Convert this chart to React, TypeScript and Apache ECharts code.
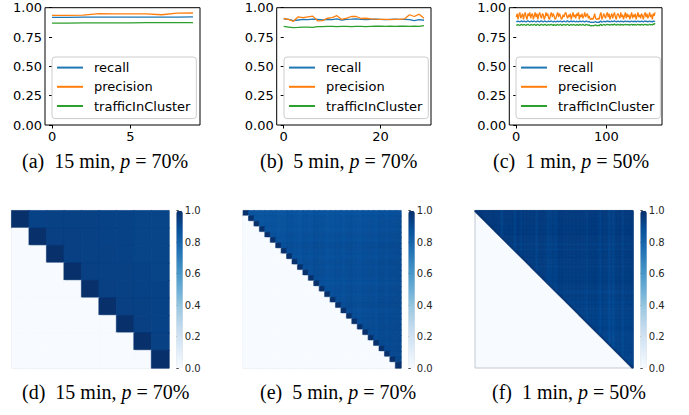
import React, { useEffect, useRef } from 'react';
import * as echarts from 'echarts';

// ---------- data ----------
const SERIES_NAMES = ['recall', 'precision', 'trafficInCluster'];
const LINE_COLORS = ['#1f77b4', '#ff7f0e', '#2ca02c'];
const BLUES = ['#f7fbff', '#deebf7', '#c6dbef', '#9ecae1', '#6baed6', '#4292c6', '#2171b5', '#08519c', '#08306b'];

// (a) 15 min
const recallA = [0.918, 0.918, 0.919, 0.919, 0.919, 0.919, 0.919, 0.92, 0.92, 0.921];
const precisionA = [0.935, 0.935, 0.937, 0.95, 0.948, 0.948, 0.948, 0.94, 0.953, 0.955];
const trafficA = [0.868, 0.869, 0.87, 0.871, 0.871, 0.871, 0.872, 0.872, 0.873, 0.873];

// (b) 5 min
const recallB = [0.905, 0.9, 0.89, 0.895, 0.9, 0.898, 0.902, 0.9, 0.895, 0.9, 0.898, 0.905, 0.895, 0.9, 0.902, 0.905, 0.9, 0.898, 0.9, 0.902, 0.9, 0.898, 0.9, 0.902, 0.9, 0.9, 0.898, 0.89, 0.898, 0.893];
const precisionB = [0.908, 0.9, 0.884, 0.922, 0.915, 0.922, 0.928, 0.888, 0.89, 0.91, 0.915, 0.932, 0.9, 0.912, 0.925, 0.925, 0.908, 0.91, 0.905, 0.902, 0.9, 0.9, 0.898, 0.9, 0.9, 0.905, 0.94, 0.925, 0.945, 0.91];
const trafficB = [0.84, 0.835, 0.83, 0.832, 0.835, 0.835, 0.833, 0.838, 0.838, 0.84, 0.84, 0.838, 0.84, 0.84, 0.838, 0.84, 0.84, 0.838, 0.84, 0.842, 0.842, 0.84, 0.842, 0.84, 0.842, 0.842, 0.84, 0.842, 0.84, 0.848];

// (c) 1 min
const recallC = [
  0.885, 0.88, 0.886, 0.882, 0.878, 0.884, 0.887, 0.88, 0.883, 0.886,
  0.881, 0.879, 0.885, 0.888, 0.882, 0.878, 0.884, 0.886, 0.88, 0.883,
  0.887, 0.882, 0.879, 0.884, 0.886, 0.881, 0.878, 0.885, 0.888, 0.882,
  0.879, 0.884, 0.887, 0.881, 0.878, 0.883, 0.886, 0.88, 0.884, 0.887,
  0.882, 0.879, 0.885, 0.881, 0.878, 0.884, 0.886, 0.88, 0.883, 0.887,
  0.881, 0.878, 0.884, 0.886, 0.882, 0.879, 0.885, 0.888, 0.881, 0.878,
  0.884, 0.887, 0.88, 0.883, 0.886, 0.881, 0.879, 0.885, 0.882, 0.878,
  0.884, 0.886, 0.88, 0.883, 0.887, 0.881, 0.878, 0.884, 0.886, 0.882,
  0.879, 0.883, 0.875, 0.874, 0.876, 0.875, 0.874, 0.878, 0.882, 0.876,
  0.875, 0.877, 0.874, 0.883, 0.886, 0.876, 0.88, 0.885, 0.882, 0.879,
  0.884, 0.887, 0.881, 0.885, 0.878, 0.883, 0.886, 0.88, 0.884, 0.888,
  0.882, 0.878, 0.884, 0.886, 0.881, 0.879, 0.887, 0.882, 0.884, 0.878,
  0.883, 0.887, 0.88, 0.885, 0.882, 0.884, 0.878, 0.883, 0.887, 0.88,
  0.884, 0.881, 0.886, 0.878, 0.883, 0.887, 0.881, 0.884, 0.88, 0.886,
  0.883, 0.878, 0.884, 0.887, 0.881, 0.885, 0.879, 0.883, 0.887, 0.881,
  0.884, 0.878, 0.886, 0.882, 0.887,
];
const precisionC = [
  0.92, 0.95, 0.9, 0.94, 0.96, 0.91, 0.93, 0.95, 0.9, 0.94,
  0.96, 0.92, 0.9, 0.95, 0.93, 0.96, 0.91, 0.94, 0.95, 0.9,
  0.93, 0.96, 0.92, 0.95, 0.9, 0.94, 0.96, 0.93, 0.91, 0.95,
  0.94, 0.9, 0.92, 0.96, 0.93, 0.95, 0.91, 0.9, 0.94, 0.96,
  0.92, 0.95, 0.93, 0.9, 0.91, 0.94, 0.96, 0.92, 0.95, 0.93,
  0.9, 0.91, 0.94, 0.92, 0.95, 0.96, 0.93, 0.91, 0.94, 0.92,
  0.95, 0.9, 0.93, 0.96, 0.92, 0.94, 0.91, 0.95, 0.93, 0.96,
  0.9, 0.94, 0.92, 0.95, 0.91, 0.93, 0.96, 0.92, 0.94, 0.95,
  0.91, 0.93, 0.9, 0.9, 0.91, 0.9, 0.92, 0.95, 0.91, 0.9,
  0.9, 0.91, 0.9, 0.94, 0.96, 0.9, 0.92, 0.95, 0.93, 0.91,
  0.94, 0.96, 0.92, 0.95, 0.9, 0.93, 0.95, 0.91, 0.94, 0.96,
  0.92, 0.9, 0.94, 0.95, 0.93, 0.91, 0.96, 0.92, 0.94, 0.9,
  0.93, 0.96, 0.91, 0.95, 0.92, 0.94, 0.9, 0.93, 0.96, 0.91,
  0.94, 0.92, 0.95, 0.9, 0.93, 0.96, 0.92, 0.94, 0.91, 0.95,
  0.93, 0.9, 0.94, 0.96, 0.92, 0.95, 0.91, 0.93, 0.96, 0.92,
  0.94, 0.9, 0.95, 0.93, 0.96,
];
const trafficC = [
  0.855, 0.85, 0.857, 0.852, 0.848, 0.856, 0.858, 0.851, 0.854, 0.857,
  0.852, 0.849, 0.856, 0.859, 0.853, 0.848, 0.855, 0.857, 0.851, 0.854,
  0.858, 0.853, 0.849, 0.855, 0.857, 0.852, 0.847, 0.856, 0.859, 0.853,
  0.85, 0.855, 0.858, 0.852, 0.848, 0.854, 0.857, 0.851, 0.855, 0.858,
  0.853, 0.849, 0.856, 0.852, 0.848, 0.855, 0.857, 0.851, 0.854, 0.858,
  0.852, 0.848, 0.855, 0.857, 0.853, 0.85, 0.856, 0.859, 0.852, 0.849,
  0.855, 0.858, 0.851, 0.854, 0.857, 0.852, 0.85, 0.856, 0.853, 0.849,
  0.855, 0.857, 0.851, 0.854, 0.858, 0.852, 0.849, 0.855, 0.857, 0.853,
  0.85, 0.854, 0.847, 0.846, 0.848, 0.847, 0.846, 0.85, 0.854, 0.848,
  0.847, 0.849, 0.846, 0.855, 0.858, 0.848, 0.852, 0.857, 0.854, 0.851,
  0.856, 0.859, 0.853, 0.857, 0.85, 0.855, 0.858, 0.852, 0.856, 0.86,
  0.854, 0.85, 0.856, 0.858, 0.853, 0.851, 0.859, 0.854, 0.856, 0.85,
  0.855, 0.859, 0.852, 0.857, 0.854, 0.856, 0.85, 0.855, 0.859, 0.852,
  0.856, 0.853, 0.858, 0.85, 0.855, 0.859, 0.853, 0.856, 0.852, 0.858,
  0.855, 0.85, 0.856, 0.859, 0.853, 0.857, 0.851, 0.855, 0.86, 0.853,
  0.857, 0.852, 0.862, 0.858, 0.868,
];

const xTicksA = [0, 5];
const xTicksB = [0, 20];
const xTicksC = [0, 100];
const colorbarTicks = [0, 0.2, 0.4, 0.6, 0.8, 1];

// (d) 15 min similarity matrix (9 x 9, upper triangle)
const matrixD = [
  [1, 0.93, 0.935, 0.935, 0.935, 0.93, 0.93, 0.925, 0.925],
  [0, 1, 0.94, 0.94, 0.935, 0.93, 0.93, 0.925, 0.925],
  [0, 0, 1, 0.94, 0.935, 0.935, 0.93, 0.925, 0.925],
  [0, 0, 0, 1, 0.94, 0.935, 0.935, 0.93, 0.925],
  [0, 0, 0, 0, 1, 0.94, 0.935, 0.93, 0.93],
  [0, 0, 0, 0, 0, 1, 0.94, 0.935, 0.93],
  [0, 0, 0, 0, 0, 0, 1, 0.94, 0.93],
  [0, 0, 0, 0, 0, 0, 0, 1, 0.935],
  [0, 0, 0, 0, 0, 0, 0, 0, 1],
];

// (e) 5 min: row / column similarity levels (29 x 29)
const rowLevelE = [0.86, 0.87, 0.88, 0.87, 0.89, 0.88, 0.9, 0.89, 0.88, 0.9, 0.89, 0.9, 0.89, 0.88, 0.9, 0.89, 0.9, 0.91, 0.89, 0.9, 0.9, 0.91, 0.9, 0.91, 0.9, 0.91, 0.9, 0.92, 0.92];
const colLevelE = [0.88, 0.87, 0.86, 0.85, 0.86, 0.87, 0.85, 0.86, 0.88, 0.87, 0.86, 0.88, 0.87, 0.89, 0.88, 0.86, 0.87, 0.88, 0.87, 0.89, 0.88, 0.87, 0.88, 0.89, 0.88, 0.9, 0.89, 0.9, 0.91];

// (f) 1 min: row / column similarity levels (154 x 154)
const colLevelF = [
  0.96, 0.95, 0.96, 0.94, 0.95, 0.96, 0.95, 0.94, 0.96, 0.95,
  0.95, 0.96, 0.94, 0.95, 0.96, 0.92, 0.95, 0.96, 0.94, 0.95,
  0.94, 0.95, 0.92, 0.94, 0.96, 0.88, 0.85, 0.9, 0.95, 0.94,
  0.95, 0.92, 0.94, 0.95, 0.94, 0.92, 0.95, 0.94, 0.9, 0.85,
  0.92, 0.95, 0.94, 0.94, 0.92, 0.87, 0.94, 0.95, 0.92, 0.94,
  0.95, 0.94, 0.92, 0.95, 0.94, 0.92, 0.94, 0.95, 0.94, 0.9,
  0.86, 0.92, 0.94, 0.95, 0.92, 0.94, 0.95, 0.94, 0.92, 0.94,
  0.88, 0.9, 0.86, 0.92, 0.88, 0.9, 0.94, 0.88, 0.92, 0.86,
  0.92, 0.94, 0.95, 0.92, 0.94, 0.95, 0.94, 0.92, 0.95, 0.94,
  0.92, 0.95, 0.94, 0.92, 0.94, 0.95, 0.92, 0.94, 0.95, 0.94,
  0.94, 0.92, 0.95, 0.94, 0.92, 0.94, 0.95, 0.92, 0.94, 0.86,
  0.94, 0.95, 0.92, 0.94, 0.95, 0.92, 0.94, 0.95, 0.94, 0.92,
  0.94, 0.9, 0.85, 0.92, 0.94, 0.95, 0.92, 0.94, 0.92, 0.94,
  0.88, 0.86, 0.9, 0.94, 0.88, 0.86, 0.92, 0.94, 0.95, 0.92,
  0.94, 0.95, 0.94, 0.92, 0.86, 0.94, 0.95, 0.92, 0.94, 0.95,
  0.92, 0.94, 0.95, 0.94,
];
const rowLevelF = [
  0.96, 0.95, 0.96, 0.95, 0.96, 0.95, 0.94, 0.96, 0.95, 0.96,
  0.95, 0.96, 0.95, 0.94, 0.95, 0.96, 0.95, 0.94, 0.95, 0.96,
  0.95, 0.94, 0.95, 0.96, 0.95, 0.94, 0.95, 0.96, 0.95, 0.94,
  0.95, 0.94, 0.95, 0.89, 0.94, 0.95, 0.94, 0.95, 0.89, 0.94,
  0.95, 0.94, 0.95, 0.94, 0.93, 0.94, 0.95, 0.94, 0.93, 0.94,
  0.94, 0.93, 0.94, 0.95, 0.94, 0.89, 0.93, 0.94, 0.93, 0.94,
  0.93, 0.94, 0.93, 0.92, 0.93, 0.94, 0.93, 0.92, 0.93, 0.94,
  0.93, 0.92, 0.93, 0.94, 0.93, 0.92, 0.93, 0.93, 0.92, 0.89,
  0.9, 0.89, 0.93, 0.92, 0.93, 0.92, 0.9, 0.93, 0.92, 0.89,
  0.9, 0.89, 0.92, 0.9, 0.89, 0.92, 0.9, 0.89, 0.92, 0.9,
  0.89, 0.9, 0.89, 0.92, 0.9, 0.89, 0.9, 0.92, 0.88, 0.89,
  0.9, 0.88, 0.89, 0.9, 0.89, 0.92, 0.9, 0.89, 0.9, 0.89,
  0.9, 0.89, 0.88, 0.9, 0.89, 0.9, 0.89, 0.88, 0.9, 0.89,
  0.89, 0.9, 0.89, 0.88, 0.89, 0.9, 0.89, 0.88, 0.89, 0.9,
  0.89, 0.88, 0.9, 0.89, 0.88, 0.89, 0.9, 0.89, 0.88, 0.89,
  0.89, 0.9, 0.89, 0.9,
];

const captionLetters = ['(a)', '(b)', '(c)', '(d)', '(e)', '(f)'];
const captionIntervals = ['15 min', '5 min', '1 min', '15 min', '5 min', '1 min'];
const captionShares = ['70%', '70%', '50%', '70%', '70%', '50%'];

// ---------- layout ----------
const LINE_GRIDS = [
  { left: 45, top: 7.7, width: 155, height: 117.3 },
  { left: 276.7, top: 7.7, width: 154.3, height: 117.3 },
  { left: 509.3, top: 7.7, width: 152.7, height: 117.3 },
];
const HEAT_GRIDS = [
  { left: 11.7, top: 210.7, width: 157.3, height: 157.3 },
  { left: 243.3, top: 210.7, width: 157.7, height: 157.3 },
  { left: 475, top: 210.7, width: 158, height: 157.3 },
];
const CBAR_LEFT = [176.3, 408.3, 640.3];
const CBAR_W = 6.5;
const LEGEND_LEFT = [52, 284, 516];
const CAPTION_POS = [
  [22, 150], [260, 150], [493, 150],
  [22, 381], [260, 381], [492, 381],
];

const FONT = 'DejaVu Sans';

// colour of a value on the Blues scale (same linear interpolation as the visualMap)
function hexToRgb(h: string) {
  return [parseInt(h.slice(1, 3), 16), parseInt(h.slice(3, 5), 16), parseInt(h.slice(5, 7), 16)];
}
const BLUES_RGB = BLUES.map(hexToRgb);
function bluesColor(v: number) {
  const p = Math.max(0, Math.min(1, v)) * (BLUES_RGB.length - 1);
  const i = Math.min(BLUES_RGB.length - 2, Math.floor(p));
  const t = p - i;
  const a = BLUES_RGB[i], b = BLUES_RGB[i + 1];
  const c = a.map((x, k) => Math.round(x + (b[k] - x) * t));
  return `rgb(${c[0]},${c[1]},${c[2]})`;
}

function cell(x: number, y: number, v: number) {
  return { value: [x, y, v], itemStyle: { borderColor: bluesColor(v), borderWidth: 0.6 } };
}

function buildMatrixFromLevels(rows: number[], cols: number[], includeLower: boolean) {
  const n = rows.length;
  const out: any[] = [];
  for (let i = 0; i < n; i++) {
    for (let j = 0; j < n; j++) {
      if (j > i) out.push(cell(j, i, +((rows[i] + cols[j]) / 2).toFixed(3)));
      else if (j === i) out.push(cell(j, i, 1));
      else if (includeLower) out.push(cell(j, i, 0));
    }
  }
  return out;
}

function buildOption() {
  const lineSets = [
    { data: [recallA, precisionA, trafficA], ticks: xTicksA },
    { data: [recallB, precisionB, trafficB], ticks: xTicksB },
    { data: [recallC, precisionC, trafficC], ticks: xTicksC },
  ];

  const heatData: any[][] = [
    matrixD.flatMap((row, i) => row.map((v, j) => cell(j, i, v))),
    buildMatrixFromLevels(rowLevelE, colLevelE, true),
    buildMatrixFromLevels(rowLevelF, colLevelF, false),
  ];
  const heatSizes = [matrixD.length, rowLevelE.length, rowLevelF.length];

  const grid: any[] = [];
  const xAxis: any[] = [];
  const yAxis: any[] = [];
  const series: any[] = [];

  lineSets.forEach((set, k) => {
    const n = set.data[1].length;
    grid.push({ ...LINE_GRIDS[k], show: true, borderColor: '#000', borderWidth: 1, backgroundColor: 'transparent' });
    xAxis.push({
      type: 'value', gridIndex: k,
      min: -0.05 * (n - 1), max: 1.05 * (n - 1),
      axisLine: { show: false },
      axisTick: { show: true, customValues: set.ticks, length: 3.5, lineStyle: { color: '#000', width: 1 } },
      axisLabel: { customValues: set.ticks, fontSize: 13, color: '#000', fontFamily: FONT, margin: 5 },
      splitLine: { show: false },
    });
    yAxis.push({
      type: 'value', gridIndex: k, min: 0, max: 1, interval: 0.25,
      axisLine: { show: false },
      axisTick: { show: true, length: 3, lineStyle: { color: '#000', width: 1 } },
      axisLabel: { fontSize: 13, color: '#000', fontFamily: FONT, margin: 3, formatter: (v: number) => v.toFixed(2) },
      splitLine: { show: false },
    });
    set.data.forEach((vals, s) => {
      series.push({
        type: 'line', name: SERIES_NAMES[s], xAxisIndex: k, yAxisIndex: k,
        data: vals.map((v, i) => [i, v]),
        symbol: 'none', showSymbol: false, silent: true,
        lineStyle: { width: 1.3, color: LINE_COLORS[s] },
        itemStyle: { color: LINE_COLORS[s] },
        z: 2 + s,
      });
    });
  });

  HEAT_GRIDS.forEach((g, k) => {
    const idx = 3 + k;
    const cats = Array.from({ length: heatSizes[k] }, (_, i) => String(i));
    grid.push({ ...g, show: true, backgroundColor: BLUES[0], borderColor: '#c3c9d4', borderWidth: 1 });
    xAxis.push({ type: 'category', gridIndex: idx, data: cats, show: false });
    yAxis.push({ type: 'category', gridIndex: idx, data: cats, show: false, inverse: true });
  });
  CBAR_LEFT.forEach((left, k) => {
    const idx = 6 + k;
    grid.push({ left, top: 210.7, width: CBAR_W, height: 157.3, show: false });
    xAxis.push({ type: 'value', gridIndex: idx, show: false, min: 0, max: 1 });
    yAxis.push({
      type: 'value', gridIndex: idx, position: 'right', min: 0, max: 1, interval: 0.2,
      axisLine: { show: false },
      axisTick: { show: true, length: 2.5, lineStyle: { color: '#262626', width: 0.8 } },
      axisLabel: { fontSize: 10, color: '#262626', fontFamily: FONT, margin: 2, formatter: (v: number) => v.toFixed(1), customValues: colorbarTicks },
      splitLine: { show: false },
    });
  });

  heatData.forEach((data, k) => {
    series.push({
      type: 'heatmap', xAxisIndex: 3 + k, yAxisIndex: 3 + k,
      data, progressive: 0, silent: true,
      emphasis: { disabled: true },
    });
  });

  const visualMap = CBAR_LEFT.map((left, k) => ({
    type: 'continuous', seriesIndex: 9 + k, min: 0, max: 1,
    show: true, calculable: false, orient: 'vertical', hoverLink: false,
    left, top: 210.7, itemWidth: CBAR_W, itemHeight: 157.3, padding: 0,
    inRange: { color: BLUES },
  }));

  const legend = LEGEND_LEFT.map((left) => ({
    orient: 'vertical', left, top: 57,
    data: SERIES_NAMES, icon: 'rect', itemWidth: 26, itemHeight: 2, itemGap: 0,
    padding: [1, 6, 3, 5],
    borderColor: '#cccccc', borderWidth: 1, borderRadius: 3,
    backgroundColor: 'rgba(255,255,255,0.8)',
    selectedMode: false,
    textStyle: { fontSize: 13, fontFamily: FONT, color: '#000', lineHeight: 19.2, padding: [0, 0, 0, 6] },
  }));

  const title = captionLetters.map((letter, k) => ({
    left: CAPTION_POS[k][0], top: CAPTION_POS[k][1], padding: 0,
    text: `${letter}\u00a0\u00a0${captionIntervals[k]}, {i|p} = ${captionShares[k]}`,
    textStyle: {
      fontFamily: 'Liberation Serif', fontSize: 20, fontWeight: 'normal', color: '#000', lineHeight: 22,
      rich: { i: { fontFamily: 'Liberation Serif', fontStyle: 'italic', fontSize: 20, color: '#000', lineHeight: 22 } },
    },
  }));

  return {
    animation: false,
    backgroundColor: '#ffffff',
    title, legend, grid, xAxis, yAxis, series, visualMap,
  };
}

export default function App() {
  const ref = useRef<HTMLDivElement>(null);
  useEffect(() => {
    const chart = echarts.init(ref.current!, null, { renderer: 'svg' });
    chart.setOption(buildOption() as any);
    return () => chart.dispose();
  }, []);
  return (
    <div
      ref={ref}
      style={{ position: 'fixed', left: 0, top: 0, width: 689, height: 415, background: '#fff' }}
    />
  );
}
